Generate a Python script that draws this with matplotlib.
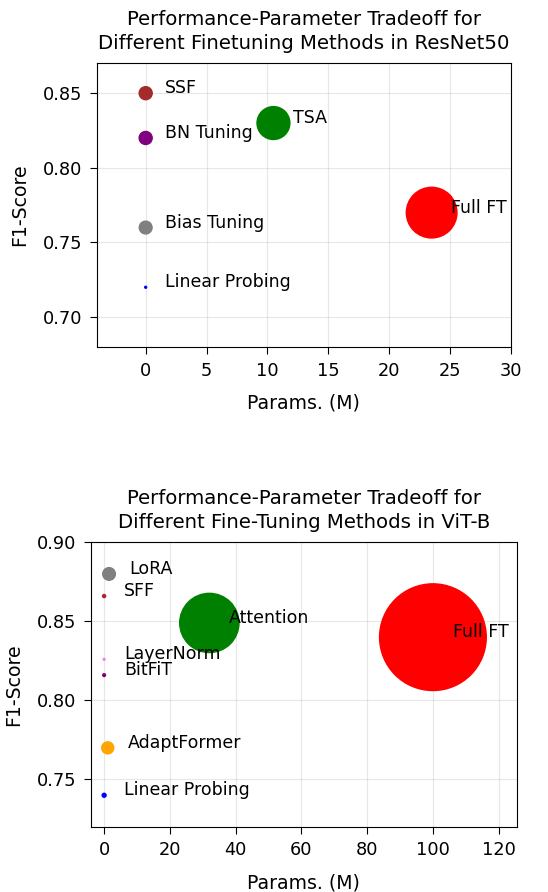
import matplotlib
matplotlib.use("Agg")
import matplotlib.pyplot as plt

# === Data ===
# ResNet50
resnet_methods = ["SSF", "BN Tuning", "TSA", "Full FT", "Bias Tuning", "Linear Probing"]
resnet_params = [0.0, 0.0, 10.5, 23.5, 0.0, 0.0]
resnet_f1 = [0.85, 0.82, 0.83, 0.77, 0.76, 0.72]
resnet_colors = ["brown", "purple", "green", "red", "gray", "blue"]

# ViT-B
vit_methods = ["LoRA", "SFF", "Attention", "Full FT", "LayerNorm", "BitFiT",
               "AdaptFormer", "Linear Probing"]
vit_params = [1.5, 0.0, 32.0, 100.0, 0.0, 0.0, 1.1, 0.0]
vit_f1 = [0.88, 0.866, 0.849, 0.84, 0.826, 0.816, 0.77, 0.74]
vit_colors = ["gray", "brown", "green", "red", "violet", "purple", "orange", "blue"]

# bubble sizes (points^2)
resnet_sizes = [88, 88, 560, 1330, 85, 2]
vit_sizes = [83, 5, 1820, 5900, 2, 4, 75, 8]

TICK_FS = 12.8
LABEL_FS = 13.6
TITLE_FS = 14.2
ANNOT_FS = 12.5


def style_axes(ax, title):
    ax.set_xlabel("Params. (M)", fontsize=LABEL_FS, labelpad=10)
    ax.set_ylabel("F1-Score", fontsize=LABEL_FS, labelpad=10)
    ax.set_title(title, fontsize=TITLE_FS, pad=10, linespacing=1.33)
    ax.tick_params(labelsize=TICK_FS, length=5, pad=5.5)
    ax.grid(True, alpha=0.3)


fig = plt.figure(figsize=(5.48, 8.92), dpi=100)

ax1 = fig.add_axes([0.177, 0.611, 0.755, 0.318])
ax1.scatter(resnet_params, resnet_f1, s=resnet_sizes, c=resnet_colors, zorder=3)
for name, x, y in zip(resnet_methods, resnet_params, resnet_f1):
    ax1.text(x + 1.6, y, name, fontsize=ANNOT_FS)
ax1.set_xlim(-4, 30)
ax1.set_ylim(0.68, 0.87)
ax1.set_xticks(range(0, 31, 5))
ax1.set_yticks([0.70, 0.75, 0.80, 0.85])
style_axes(ax1, "Performance-Parameter Tradeoff for\nDifferent Finetuning Methods in ResNet50")

ax2 = fig.add_axes([0.166, 0.073, 0.777, 0.319])
ax2.scatter(vit_params, vit_f1, s=vit_sizes, c=vit_colors, zorder=3)
for name, x, y in zip(vit_methods, vit_params, vit_f1):
    ax2.text(x + 6, y, name, fontsize=ANNOT_FS)
ax2.set_xlim(-4, 125.5)
ax2.set_ylim(0.72, 0.90)
ax2.set_xticks(range(0, 121, 20))
ax2.set_yticks([0.75, 0.80, 0.85, 0.90])
style_axes(ax2, "Performance-Parameter Tradeoff for\nDifferent Fine-Tuning Methods in ViT-B")

fig.savefig("out.png", dpi=100)
